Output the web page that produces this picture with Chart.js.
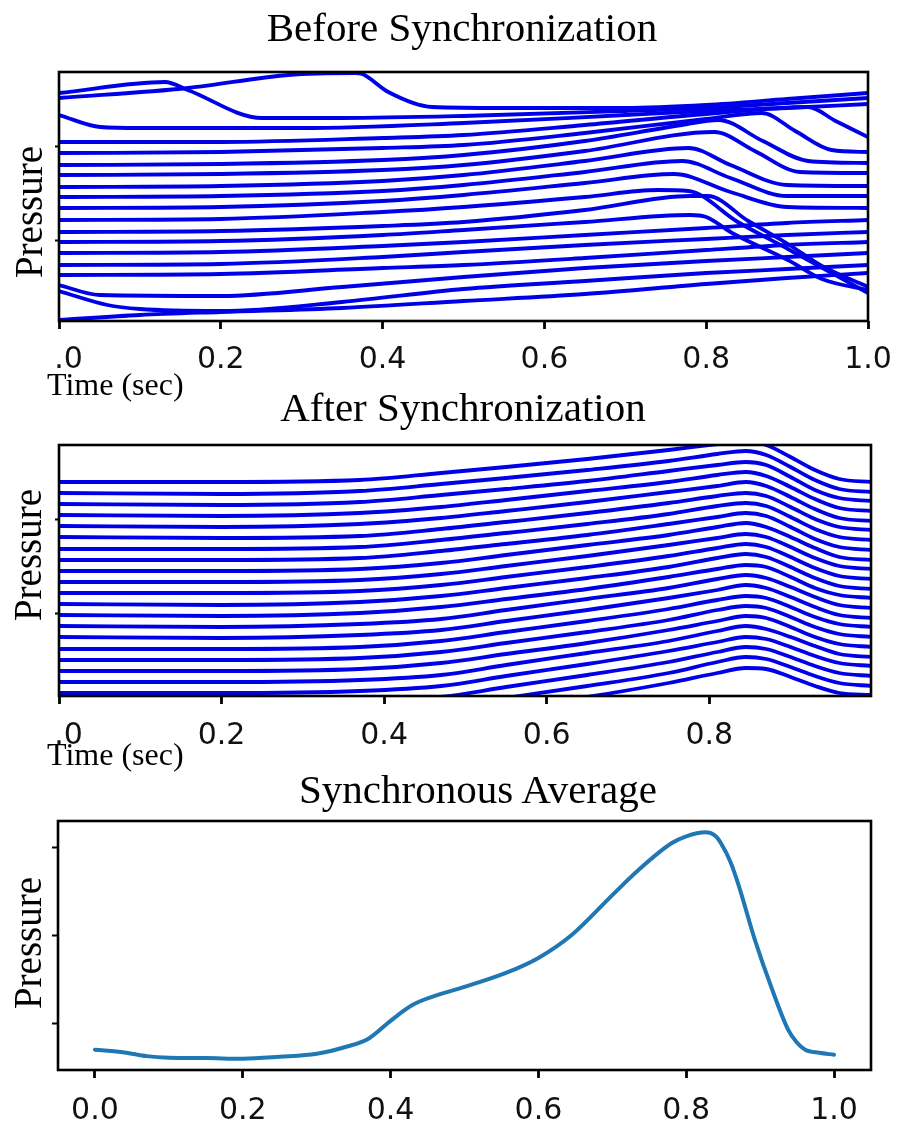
<!DOCTYPE html>
<html><head><meta charset="utf-8">
<script src="https://cdn.jsdelivr.net/npm/chart.js@4.4.1/dist/chart.umd.min.js"></script>
<style>
html,body{margin:0;padding:0;background:#fff;}
#wrap{position:relative;width:898px;height:1128px;overflow:hidden;background:#fff;}
canvas{position:absolute;left:0;}
.t{position:absolute;font-family:'Liberation Serif','Times New Roman',serif;color:#000;white-space:nowrap;}
.title{font-size:41px;line-height:41px;width:600px;text-align:center;}
.ylab{font-size:39px;line-height:40px;width:200px;height:40px;text-align:center;transform:rotate(-90deg);}
.xlab{font-size:32px;line-height:32px;}
</style></head><body>
<div id="wrap">
<canvas id="c1" width="898" height="400" style="top:0px"></canvas>
<canvas id="c2" width="898" height="400" style="top:380px"></canvas>
<canvas id="c3" width="898" height="368" style="top:760px"></canvas>
<div class="t title" style="left:162px;top:7px">Before Synchronization</div>
<div class="t title" style="left:163px;top:387px">After Synchronization</div>
<div class="t title" style="left:178px;top:769px">Synchronous Average</div>
<div class="t ylab" style="left:-71px;top:192px">Pressure</div>
<div class="t ylab" style="left:-72px;top:535px">Pressure</div>
<div class="t ylab" style="left:-72px;top:923px">Pressure</div>
<div class="t xlab" style="left:47px;top:368px">Time (sec)</div>
<div class="t xlab" style="left:47px;top:738px">Time (sec)</div>
</div>
<script>
// ---------- data ----------
// Panel 1: unsynchronized cycles, each as [time, pressure] points
const beforeCycles = [
 [[0,228],[0.131,239],[0.159,231],[0.251,203],[0.35,203],[0.5,205],[0.7,210],[0.8,213],[0.9,218],[1,223]],
 [[0,223],[0.16,233],[0.283,246],[0.366,248],[0.375,247],[0.407,229],[0.461,214],[0.55,213],[0.7,213],[0.8,216],[0.9,222],[1,228]],
 [[0,206],[0.051,194],[0.1,193],[0.3,193],[0.5,198],[0.7,206],[0.8,210],[0.9,213],[1,217]],
 [[0,179],[0.2,179],[0.4,183],[0.5,186],[0.65,196],[0.8,207],[0.926,214],[0.96,200],[1,184]],
 [[0,168],[0.2,169],[0.4,173],[0.5,176],[0.65,188],[0.8,202],[0.869,208],[0.91,190],[0.955,171],[1,169]],
 [[0,156],[0.2,157],[0.4,161],[0.5,166],[0.65,180],[0.77,196],[0.815,201],[0.87,180],[0.926,160],[1,158]],
 [[0,146],[0.2,147],[0.4,151],[0.5,156],[0.65,170],[0.81,189],[0.86,170],[0.916,149],[1,148]],
 [[0,134],[0.2,135],[0.4,140],[0.5,146],[0.65,160],[0.778,173],[0.83,156],[0.9,136],[1,135]],
 [[0,124],[0.2,125],[0.4,130],[0.5,136],[0.65,149],[0.77,160],[0.83,143],[0.9,125],[1,125]],
 [[0,113],[0.2,114],[0.4,120],[0.5,126],[0.65,138],[0.76,147],[0.83,129],[0.9,114],[1,113]],
 [[0,101],[0.2,102],[0.4,109],[0.5,114],[0.65,124],[0.74,131],[0.778,130],[0.839,99],[0.901,72],[1,28]],
 [[0,89],[0.2,90],[0.4,95],[0.5,99],[0.65,111],[0.78,125],[0.802,125],[0.852,100],[0.901,77],[0.943,55],[1,34]],
 [[0,79],[0.2,80],[0.4,86],[0.5,91],[0.65,99],[0.78,106],[0.8,104],[0.832,88],[0.901,61],[0.943,42],[1,31]],
 [[0,68],[0.2,69],[0.4,75],[0.5,79],[0.65,86],[0.8,93],[0.9,98],[1,101]],
 [[0,56],[0.2,57],[0.4,64],[0.5,69],[0.65,76],[0.8,82],[0.9,86],[1,89]],
 [[0,46],[0.2,47],[0.4,53],[0.5,56],[0.65,63],[0.8,71],[0.9,76],[1,79]],
 [[0,36],[0.05,26],[0.2,25],[0.35,34],[0.5,44],[0.65,53],[0.8,60],[0.9,64],[1,68]],
 [[0,30],[0.06,16],[0.1,12],[0.2,10],[0.35,19],[0.5,32],[0.65,40],[0.8,48],[0.9,52],[1,56]],
 [[0,1],[0.1,6],[0.2,9],[0.35,13],[0.5,20],[0.65,27],[0.8,37],[0.9,43],[1,48]]
];
const beforeXTicks = [0, 0.2, 0.4, 0.6, 0.8, 1.0];
const beforeXLabels = ['\u2007.0', '0.2', '0.4', '0.6', '0.8', '1.0'];
const beforeYTicks = [81, 175];

// Panel 2: synchronized cycles, shared time base
const afterTime = [0, 0.2, 0.37, 0.47, 0.55, 0.65, 0.75, 0.81, 0.845, 0.87, 0.9, 0.93, 0.96, 1.0];
const afterCycles = [
 [214,214,216,223,229,237,246,252,255,251,239,226,217,214],
 [203,202,205,212,218,226,235,242,245,241,229,216,207,204],
 [192,191,194,201,207,215,225,231,234,231,219,206,198,195],
 [181,180,183,189,196,205,214,221,224,220,209,197,188,185],
 [170,169,172,178,185,194,204,210,214,210,199,187,178,175],
 [159,158,160,167,174,183,193,200,203,200,189,177,169,166],
 [147,147,149,156,163,172,182,190,193,190,179,167,159,156],
 [136,136,138,145,152,161,172,179,183,180,169,157,149,146],
 [125,125,127,133,141,151,161,169,173,169,159,148,139,136],
 [114,114,116,122,130,140,151,158,162,159,149,138,130,127],
 [103,103,105,111,119,129,140,148,152,149,139,128,120,117],
 [92,91,94,100,108,118,129,138,142,139,129,118,110,107],
 [81,80,83,89,97,107,119,127,131,129,119,108,101,98],
 [70,69,72,77,86,97,108,117,121,118,109,99,91,88],
 [59,58,61,66,75,86,98,106,111,108,99,89,81,78],
 [47,47,49,55,64,75,87,96,100,98,89,79,72,69],
 [36,36,38,44,53,64,76,86,90,88,79,69,62,59],
 [25,25,27,33,42,53,66,75,80,78,69,59,52,49],
 [14,14,16,21,31,43,55,65,70,67,59,50,42,39],
 [3,3,5,10,20,32,45,54,59,57,49,40,33,30],
 [-8,-8,-6,-1,9,21,34,44,49,47,39,30,23,20],
 [-19,-19,-17,-12,-2,10,23,34,39,37,29,20,13,10],
 [-30,-30,-28,-23,-13,-1,13,23,28,27,19,10,3,1]
];
const afterXTicks = [0, 0.2, 0.4, 0.6, 0.8];
const afterXLabels = ['\u2007.0', '0.2', '0.4', '0.6', '0.8'];
const afterYTicks = [83, 177];

// Panel 3: synchronous average
const averageTime = [0,0.04,0.07,0.1,0.15,0.2,0.25,0.3,0.34,0.37,0.4,0.43,0.456,0.5,0.556,0.6,0.645,0.7,0.735,0.78,0.8,0.826,0.84,0.847,0.86,0.87,0.893,0.915,0.938,0.95,0.961,0.98,1.0];
const averagePressure = [0.706,0.676,0.634,0.616,0.612,0.605,0.627,0.661,0.740,0.831,1.034,1.215,1.305,1.418,1.576,1.746,2.006,2.458,2.740,3.045,3.124,3.169,3.124,3.045,2.831,2.593,1.949,1.418,0.932,0.785,0.706,0.672,0.650];
const averageXTicks = [0, 0.2, 0.4, 0.6, 0.8, 1.0];
const averageXLabels = ['0.0', '0.2', '0.4', '0.6', '0.8', '1.0'];
const averageYTicks = [1, 2, 3];

// ---------- drawing ----------
const BLUE = '#0000e8';
const frame = {
  id: 'frame',
  afterDatasetsDraw(chart) {
    const {ctx, chartArea: a} = chart;
    ctx.save();
    ctx.strokeStyle = '#000';
    ctx.lineWidth = 2.6;
    ctx.strokeRect(a.left, a.top, a.right - a.left, a.bottom - a.top);
    ctx.restore();
  }
};

function makeChart(id, datasets, o) {
  return new Chart(document.getElementById(id), {
    type: 'line',
    data: {datasets},
    options: {
      responsive: false, animation: false, events: [],
      layout: {padding: {top: o.top, right: o.right, left: 0, bottom: 0}},
      plugins: {legend: {display: false}, tooltip: {enabled: false}, title: {display: false}},
      elements: {point: {radius: 0}, line: {cubicInterpolationMode: 'monotone', borderJoinStyle: 'round', borderCapStyle: 'round'}},
      scales: {
        x: {
          type: 'linear', min: o.xmin, max: o.xmax,
          afterBuildTicks: s => { s.ticks = o.xticks.map(v => ({value: v})); },
          afterFit: s => { s.height = o.xh; s.paddingLeft = 0; s.paddingRight = 0; },
          ticks: {autoSkip: false, maxRotation: 0, minRotation: 0, padding: o.pad, color: '#111',
                  font: {family: 'DejaVu Sans', size: 30}, callback: (v, i) => o.xlabels[i]},
          grid: {drawOnChartArea: false, drawTicks: true, tickLength: 8, tickWidth: 2.8, tickColor: '#000'},
          border: {display: false}
        },
        y: {
          type: 'linear', min: o.ymin, max: o.ymax,
          afterBuildTicks: s => { s.ticks = o.yticks.map(v => ({value: v})); },
          afterFit: s => { s.width = o.yw; s.paddingTop = 0; s.paddingBottom = 0; },
          ticks: {padding: 0, callback: () => '', font: {size: 10}},
          grid: {drawOnChartArea: false, drawTicks: true, tickLength: o.ytl, tickWidth: 2, tickColor: '#000'},
          border: {display: false}
        }
      }
    },
    plugins: [frame]
  });
}

makeChart('c1',
  beforeCycles.map(c => ({data: c.map(p => ({x: p[0], y: p[1]})), borderColor: BLUE, borderWidth: 3.8, fill: false})),
  {top: 72, right: 30, xh: 79, yw: 59, pad: 13, xmin: 0, xmax: 1, ymin: 0, ymax: 249,
   xticks: beforeXTicks, xlabels: beforeXLabels, yticks: beforeYTicks, ytl: 4});

makeChart('c2',
  afterCycles.map(r => ({data: afterTime.map((t, j) => ({x: t, y: r[j]})), borderColor: BLUE, borderWidth: 3.8, fill: false})),
  {top: 65, right: 27, xh: 84, yw: 59, pad: 14, xmin: 0, xmax: 0.999, ymin: 0, ymax: 251,
   xticks: afterXTicks, xlabels: afterXLabels, yticks: afterYTicks, ytl: 4});

makeChart('c3',
  [{data: averageTime.map((t, j) => ({x: t, y: averagePressure[j]})), borderColor: '#1f77b4', borderWidth: 4, fill: false}],
  {top: 61, right: 27, xh: 58, yw: 58, pad: 15, xmin: -0.05, xmax: 1.05, ymin: 0.477, ymax: 3.297,
   xticks: averageXTicks, xlabels: averageXLabels, yticks: averageYTicks, ytl: 6});
</script>
</body></html>
